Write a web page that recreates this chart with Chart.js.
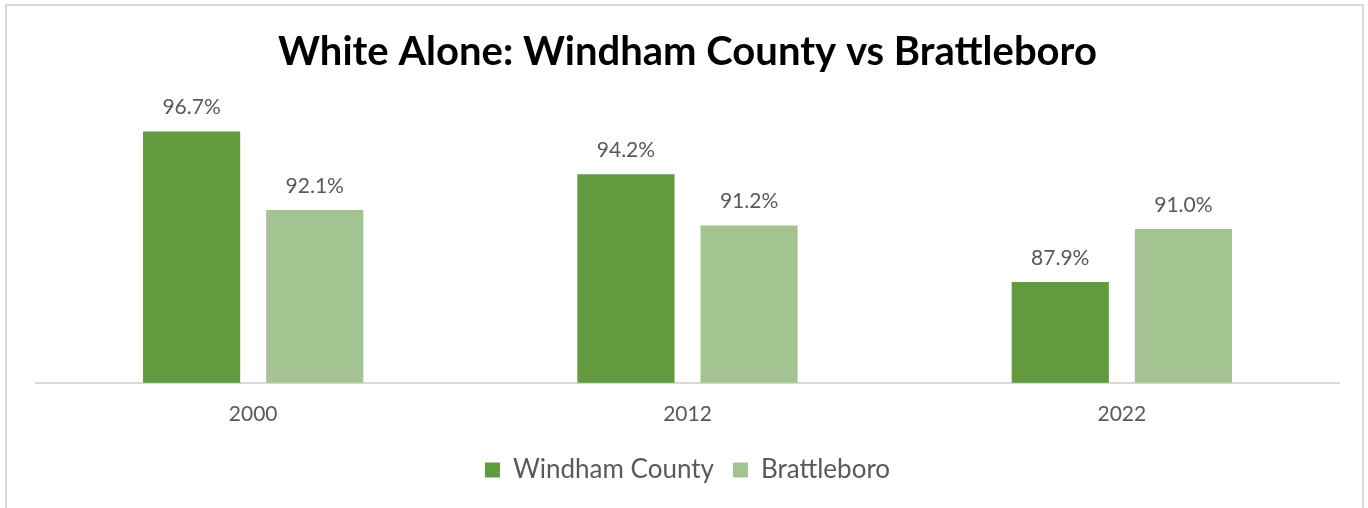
<!DOCTYPE html>
<html>
<head>
<meta charset="utf-8">
<script src="https://cdn.jsdelivr.net/npm/chart.js@4.4.0/dist/chart.umd.min.js"></script>
<style>
  body { margin: 0; background: #fff; }
  #frame { position: absolute; left: 5px; top: 4px; width: 1359px; height: 520px; border: 2px solid #d9d9d9; box-sizing: border-box; }
  #chart { position: absolute; left: 0; top: 0; }
</style>
</head>
<body>
<div id="frame"></div>
<canvas id="chart" width="1368" height="508"></canvas>
<script>
const years = ["2000", "2012", "2022"];
const windham = [96.7, 94.2, 87.9];
const brattleboro = [92.1, 91.2, 91.0];
const fontName = "Lato, 'Open Sans', sans-serif";

// draws the value labels above each bar
const barLabels = {
    id: 'barLabels',
    afterDatasetsDraw(chart) {
        const ctx = chart.ctx;
        ctx.save();
        ctx.font = "21px " + fontName;
        ctx.fillStyle = "#595959";
        ctx.textAlign = "center";
        ctx.textBaseline = "middle";
        chart.data.datasets.forEach((ds, i) => {
            chart.getDatasetMeta(i).data.forEach((bar, j) => {
                ctx.fillText(ds.data[j].toFixed(1) + "%", bar.x, bar.y - 24);
            });
        });
        ctx.restore();
    }
};

const ctx = document.getElementById('chart').getContext('2d');
new Chart(ctx, {
    type: 'bar',
    data: {
        labels: years,
        datasets: [{
            label: "Windham County",
            data: windham,
            backgroundColor: "#629B3E",
        }, {
            label: "Brattleboro",
            data: brattleboro,
            backgroundColor: "#A3C490",
        }]
    },
    options: {
        responsive: false,
        animation: false,
        categoryPercentage: 0.567,
        barPercentage: 0.789,
        layout: {
            padding: {left: 36, right: 29, top: 0, bottom: 15}
        },
        plugins: {
            title: {
                display: true,
                text: 'White Alone: Windham County vs Brattleboro',
                color: '#000',
                font: {family: fontName, size: 40, weight: 'bold', lineHeight: 1.1},
                padding: {top: 30, bottom: 1}
            },
            legend: {
                position: 'bottom',
                labels: {
                    color: '#595959',
                    font: {family: fontName, size: 26},
                    boxWidth: 15,
                    boxHeight: 15,
                    padding: 19
                }
            },
            tooltip: {enabled: false}
        },
        scales: {
            x: {
                grid: {display: false},
                border: {display: true, color: '#d9d9d9', width: 2},
                ticks: {color: '#595959', font: {family: fontName, size: 21}, padding: 11}
            },
            y: {
                display: false,
                min: 82,
                max: 100
            }
        }
    },
    plugins: [barLabels]
});
</script>
</body>
</html>
